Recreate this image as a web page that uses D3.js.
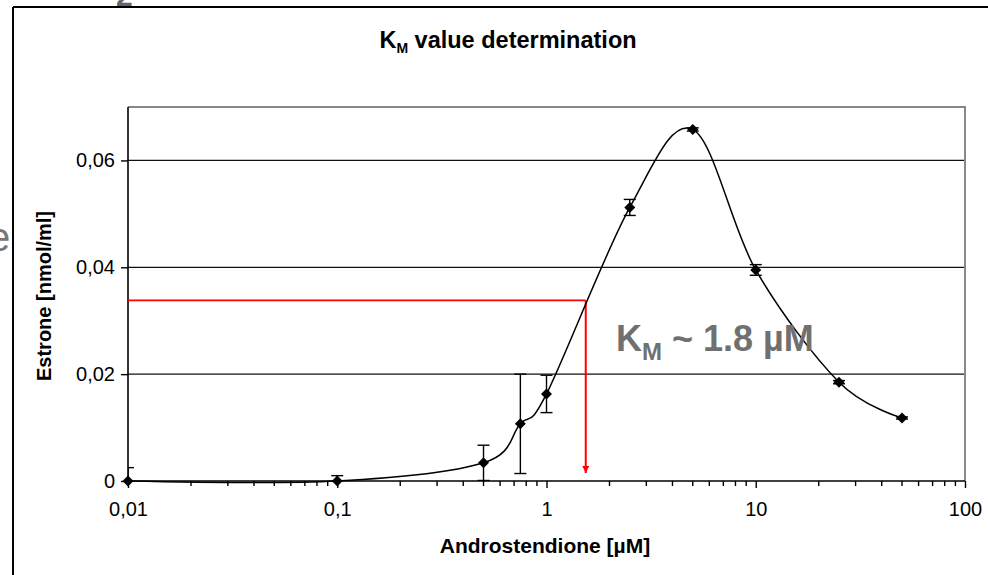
<!DOCTYPE html>
<html>
<head>
<meta charset="utf-8">
<script src="https://cdn.jsdelivr.net/npm/d3@7"></script>
<style>
  html, body { margin: 0; padding: 0; background: #fff; }
  svg { display: block; font-family: Arial, "Liberation Sans", sans-serif; }
</style>
</head>
<body>
<svg id="chart" width="988" height="575"></svg>
<script>
// ---- data ----
const concentrations = [0.01, 0.1, 0.5, 0.75, 1, 2.5, 5, 10, 25, 50];
const estrone        = [0, 0, 0.0034, 0.0107, 0.0163, 0.0512, 0.0658, 0.0395, 0.0185, 0.0118];
const errors         = [0.0025, 0.0010, 0.0033, 0.0093, 0.0035, 0.0015, 0.0003, 0.0010, 0.0003, 0.0002];
const xTickValues    = [0.01, 0.1, 1, 10, 100];
const xTickLabels    = ["0,01", "0,1", "1", "10", "100"];
const yTickValues    = [0, 0.02, 0.04, 0.06];
const yTickLabels    = ["0", "0,02", "0,04", "0,06"];
const kmX = 1.54, kmY = 0.0338, kmArrowEnd = 0.0015;

const svg = d3.select("#chart");
const L = 128, R = 965, T = 107, B = 481;
const x = d3.scaleLog().domain([0.01, 100]).range([L, R]);
const y = d3.scaleLinear().domain([0, 0.07]).range([B, T]);

// outer frame and stray fragments
svg.append("line").attr("x1", 13).attr("x2", 13).attr("y1", 7).attr("y2", 575)
  .attr("stroke", "#000").attr("stroke-width", 2);
svg.append("line").attr("x1", 13).attr("x2", 988).attr("y1", 7).attr("y2", 7)
  .attr("stroke", "#000").attr("stroke-width", 2);
svg.append("text").attr("x", 116).attr("y", 6).attr("font-size", 30).attr("font-weight", "bold")
  .attr("fill", "#666").text("2");
svg.append("text").attr("x", -12).attr("y", 251).attr("font-size", 40)
  .attr("fill", "#777").text("e");

// clip
svg.append("clipPath").attr("id", "plotclip").append("rect")
  .attr("x", L).attr("y", T).attr("width", R - L).attr("height", B - T);

// gridlines
svg.append("g").selectAll("line").data(yTickValues.filter(v => v > 0)).join("line")
  .attr("x1", L).attr("x2", R).attr("y1", d => y(d)).attr("y2", d => y(d))
  .attr("stroke", "#111").attr("stroke-width", 1.2);

// plot border top/right
svg.append("path").attr("d", `M${L},${T}H${R}V${B}`).attr("fill", "none")
  .attr("stroke", "#888").attr("stroke-width", 2);

// y axis
const yAxis = d3.axisLeft(y).tickValues(yTickValues).tickSize(7).tickPadding(6)
  .tickFormat((d, i) => yTickLabels[i]);
const gy = svg.append("g").attr("transform", `translate(${L},0)`).call(yAxis);
gy.select(".domain").attr("stroke", "#000").attr("stroke-width", 1.6).attr("d", `M0,${T}V${B}`);
gy.selectAll(".tick line").attr("stroke", "#000").attr("stroke-width", 1.4);
gy.selectAll(".tick text").attr("font-size", 20).attr("fill", "#000")
  .attr("font-family", "Arial, 'Liberation Sans', sans-serif");

// x axis: minor ticks
const minor = [];
for (let dec = 0.01; dec < 100; dec *= 10) {
  for (let k = 2; k <= 9; k++) minor.push(+(dec * k).toPrecision(3));
}
svg.append("g").selectAll("line").data(minor).join("line")
  .attr("x1", d => x(d)).attr("x2", d => x(d)).attr("y1", B).attr("y2", B + 5)
  .attr("stroke", "#000").attr("stroke-width", 1.4);
const xAxis = d3.axisBottom(x).tickValues(xTickValues).tickSize(7).tickPadding(14)
  .tickFormat((d, i) => xTickLabels[i]);
const gx = svg.append("g").attr("transform", `translate(0,${B})`).call(xAxis);
gx.select(".domain").attr("stroke", "#000").attr("stroke-width", 1.6).attr("d", `M${L},0H${R}`);
gx.selectAll(".tick line").attr("stroke", "#000").attr("stroke-width", 1.4);
gx.selectAll(".tick text").attr("font-size", 20).attr("fill", "#000")
  .attr("font-family", "Arial, 'Liberation Sans', sans-serif");

// red KM markers
svg.append("defs").append("marker").attr("id", "arrow").attr("viewBox", "0 0 10 10")
  .attr("refX", 10).attr("refY", 5).attr("markerWidth", 7).attr("markerHeight", 7)
  .attr("markerUnits", "userSpaceOnUse").attr("orient", "auto")
  .append("path").attr("d", "M0,0L10,5L0,10Z").attr("fill", "#f00");
svg.append("line").attr("x1", x(0.01)).attr("x2", x(kmX)).attr("y1", y(kmY)).attr("y2", y(kmY))
  .attr("stroke", "#f00").attr("stroke-width", 1.6);
svg.append("line").attr("x1", x(kmX)).attr("x2", x(kmX)).attr("y1", y(kmY)).attr("y2", y(kmArrowEnd))
  .attr("stroke", "#f00").attr("stroke-width", 2).attr("marker-end", "url(#arrow)");

// data
const pts = concentrations.map((c, i) => ({ c, v: estrone[i], e: errors[i] }));

// error bars
const eb = svg.append("g").attr("clip-path", "url(#plotclip)");
pts.forEach(p => {
  const cx = x(p.c), y1 = y(p.v + p.e), y2 = y(p.v - p.e);
  eb.append("line").attr("x1", cx).attr("x2", cx).attr("y1", y1).attr("y2", y2)
    .attr("stroke", "#000").attr("stroke-width", 1.4);
  [y1, y2].forEach(yy => eb.append("line").attr("x1", cx - 6).attr("x2", cx + 6)
    .attr("y1", yy).attr("y2", yy).attr("stroke", "#000").attr("stroke-width", 1.4));
});

// smoothed line
const line = d3.line().x(d => x(d.c)).y(d => y(d.v)).curve(d3.curveCardinal.tension(0));
svg.append("path").datum(pts).attr("d", line).attr("fill", "none")
  .attr("stroke", "#000").attr("stroke-width", 1.5);

// markers
svg.append("g").selectAll("path").data(pts).join("path")
  .attr("d", d3.symbol(d3.symbolSquare, 60)())
  .attr("transform", d => `translate(${x(d.c)},${y(d.v)}) rotate(45)`)
  .attr("fill", "#000");

// title
const title = svg.append("text").attr("x", 508).attr("y", 48).attr("text-anchor", "middle")
  .attr("font-size", 23.5).attr("font-weight", "bold").attr("fill", "#000");
title.append("tspan").text("K");
title.append("tspan").attr("font-size", 14).attr("dy", 5).text("M");
title.append("tspan").attr("dy", -5).text(" value determination");

// KM annotation
const ann = svg.append("text").attr("x", 616).attr("y", 351)
  .attr("font-size", 36).attr("font-weight", "bold").attr("fill", "#707070");
ann.append("tspan").text("K");
ann.append("tspan").attr("font-size", 24).attr("dy", 9).text("M");
ann.append("tspan").attr("dy", -9).text(" ~ 1.8 µM");

// axis titles
svg.append("text").attr("x", 545).attr("y", 553).attr("text-anchor", "middle")
  .attr("font-size", 21).attr("font-weight", "bold").attr("fill", "#000")
  .text("Androstendione [µM]");
svg.append("text").attr("transform", "translate(51,296) rotate(-90)").attr("text-anchor", "middle")
  .attr("font-size", 20).attr("font-weight", "bold").attr("fill", "#000")
  .text("Estrone [nmol/ml]");
</script>
</body>
</html>
